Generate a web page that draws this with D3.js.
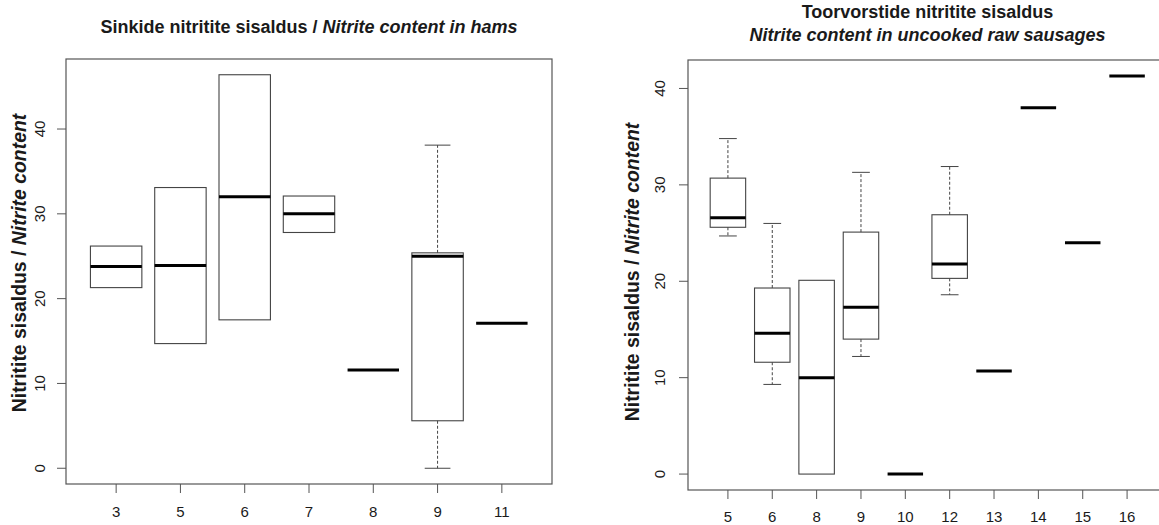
<!DOCTYPE html>
<html>
<head>
<meta charset="utf-8">
<script src="https://cdn.jsdelivr.net/npm/d3@7"></script>
<style>
  body { margin: 0; background: #fff; }
  text { font-family: "Liberation Sans", Arial, sans-serif; fill: #1a1a1a; }
</style>
</head>
<body>
<svg id="chart" width="1159" height="525"></svg>
<script>
'use strict';

// hams (left panel)
var hamCategories = ['3', '5', '6', '7', '8', '9', '11'];
var hamLow    = [21.3, 14.7, 17.5, 27.8, 11.6,  0.0, 17.1];
var hamQ1     = [21.3, 14.7, 17.5, 27.8, 11.6,  5.6, 17.1];
var hamMedian = [23.8, 23.9, 32.0, 30.0, 11.6, 25.0, 17.1];
var hamQ3     = [26.2, 33.1, 46.4, 32.1, 11.6, 25.4, 17.1];
var hamHigh   = [26.2, 33.1, 46.4, 32.1, 11.6, 38.1, 17.1];

// uncooked raw sausages (right panel)
var sausCategories = ['5', '6', '8', '9', '10', '12', '13', '14', '15', '16'];
var sausLow    = [24.7,  9.3,  0.0, 12.2, 0, 18.6, 10.7, 38.0, 24.0, 41.3];
var sausQ1     = [25.6, 11.6,  0.0, 14.0, 0, 20.3, 10.7, 38.0, 24.0, 41.3];
var sausMedian = [26.6, 14.6, 10.0, 17.3, 0, 21.8, 10.7, 38.0, 24.0, 41.3];
var sausQ3     = [30.7, 19.3, 20.1, 25.1, 0, 26.9, 10.7, 38.0, 24.0, 41.3];
var sausHigh   = [34.8, 26.0, 20.1, 31.3, 0, 31.9, 10.7, 38.0, 24.0, 41.3];

var yTicks = [0, 10, 20, 30, 40];

var svg = d3.select('#chart');

function drawPanel(opt) {
	var n = opt.cats.length;
	var rows = opt.cats.map(function (c, i) {
		return { cat: c, i: i + 1, low: opt.low[i], q1: opt.q1[i], med: opt.med[i], q3: opt.q3[i], high: opt.high[i] };
	});

	// R style: 4% padding round the data range
	var xPad = n * 0.04;
	var x = d3.scaleLinear().domain([0.5 - xPad, n + 0.5 + xPad]).range([opt.left, opt.right]);
	var ymin = d3.min(opt.low), ymax = d3.max(opt.high);
	var yPad = (ymax - ymin) * 0.04;
	var y = d3.scaleLinear().domain([ymin - yPad, ymax + yPad]).range([opt.bottom, opt.top]);

	var g = svg.append('g');
	var unit = x(1) - x(0);
	var boxW = unit * 0.8;
	var capW = boxW * 0.5;

	var b = g.selectAll('g.box').data(rows).enter().append('g').attr('class', 'box');

	// whiskers
	b.filter(function (d) { return d.high > d.q3; }).each(function (d) {
		var s = d3.select(this);
		s.append('line').attr('x1', x(d.i)).attr('x2', x(d.i)).attr('y1', y(d.q3)).attr('y2', y(d.high))
			.attr('stroke', '#444').attr('stroke-dasharray', '3,2');
		s.append('line').attr('x1', x(d.i) - capW / 2).attr('x2', x(d.i) + capW / 2).attr('y1', y(d.high)).attr('y2', y(d.high))
			.attr('stroke', '#444');
	});
	b.filter(function (d) { return d.low < d.q1; }).each(function (d) {
		var s = d3.select(this);
		s.append('line').attr('x1', x(d.i)).attr('x2', x(d.i)).attr('y1', y(d.q1)).attr('y2', y(d.low))
			.attr('stroke', '#444').attr('stroke-dasharray', '3,2');
		s.append('line').attr('x1', x(d.i) - capW / 2).attr('x2', x(d.i) + capW / 2).attr('y1', y(d.low)).attr('y2', y(d.low))
			.attr('stroke', '#444');
	});

	// boxes
	b.filter(function (d) { return d.q3 > d.q1; }).append('rect')
		.attr('x', function (d) { return x(d.i) - boxW / 2; })
		.attr('y', function (d) { return y(d.q3); })
		.attr('width', boxW)
		.attr('height', function (d) { return y(d.q1) - y(d.q3); })
		.attr('fill', 'none').attr('stroke', '#444').attr('stroke-width', 1.1);

	// medians
	b.append('line')
		.attr('x1', function (d) { return x(d.i) - boxW / 2; })
		.attr('x2', function (d) { return x(d.i) + boxW / 2; })
		.attr('y1', function (d) { return y(d.med); })
		.attr('y2', function (d) { return y(d.med); })
		.attr('stroke', '#000').attr('stroke-width', 3);

	// frame
	g.append('rect')
		.attr('x', opt.left).attr('y', opt.top)
		.attr('width', opt.right - opt.left).attr('height', opt.bottom - opt.top)
		.attr('fill', 'none').attr('stroke', '#555').attr('stroke-width', 1.2);

	// y axis
	var ya = g.append('g');
	ya.selectAll('line').data(yTicks).enter().append('line')
		.attr('x1', opt.left - 9).attr('x2', opt.left)
		.attr('y1', function (d) { return y(d); }).attr('y2', function (d) { return y(d); })
		.attr('stroke', '#555');
	ya.selectAll('text').data(yTicks).enter().append('text')
		.attr('transform', function (d) { return 'translate(' + opt.yLabelX + ',' + y(d) + ') rotate(-90)'; })
		.attr('text-anchor', 'middle').attr('dy', '0.35em')
		.style('font-size', opt.tickFont + 'px')
		.text(function (d) { return d; });

	// x axis
	var xa = g.append('g');
	xa.selectAll('line').data(rows).enter().append('line')
		.attr('x1', function (d) { return x(d.i); }).attr('x2', function (d) { return x(d.i); })
		.attr('y1', opt.bottom).attr('y2', opt.bottom + 9)
		.attr('stroke', '#555');
	xa.selectAll('text').data(rows).enter().append('text')
		.attr('x', function (d) { return x(d.i); })
		.attr('y', opt.xLabelY).attr('dy', '0.35em')
		.attr('text-anchor', 'middle')
		.style('font-size', opt.tickFont + 'px')
		.text(function (d) { return d.cat; });

	// y title
	var yt = g.append('text')
		.attr('transform', 'translate(' + opt.yTitleX + ',' + opt.yTitleY + ') rotate(-90)')
		.attr('text-anchor', 'middle').attr('dy', '0.35em')
		.style('font-size', '19.4px').style('font-weight', 'bold');
	yt.append('tspan').text('Nitritite sisaldus / ');
	yt.append('tspan').style('font-style', 'italic').text('Nitrite content');

	// main title
	var cx = (opt.left + opt.right) / 2;
	opt.title.forEach(function (line, k) {
		var t = g.append('text')
			.attr('x', cx).attr('y', opt.titleY[k]).attr('dy', '0.35em')
			.attr('text-anchor', 'middle')
			.style('font-size', '18px').style('font-weight', 'bold');
		line.forEach(function (part) {
			t.append('tspan').style('font-style', part[1] ? 'italic' : 'normal').text(part[0]);
		});
	});
}

drawPanel({
	cats: hamCategories, low: hamLow, q1: hamQ1, med: hamMedian, q3: hamQ3, high: hamHigh,
	left: 66, right: 552, top: 59, bottom: 484,
	yLabelX: 40, xLabelY: 512, yTitleX: 19, yTitleY: 263, tickFont: 15,
	title: [[['Sinkide nitritite sisaldus / ', false], ['Nitrite content in hams', true]]],
	titleY: [27]
});

drawPanel({
	cats: sausCategories, low: sausLow, q1: sausQ1, med: sausMedian, q3: sausQ3, high: sausHigh,
	left: 688, right: 1167, top: 60, bottom: 490,
	yLabelX: 660, xLabelY: 517, yTitleX: 632, yTitleY: 272, tickFont: 15,
	title: [[['Toorvorstide nitritite sisaldus', false]], [['Nitrite content in uncooked raw sausages', true]]],
	titleY: [12, 35]
});
</script>
</body>
</html>
